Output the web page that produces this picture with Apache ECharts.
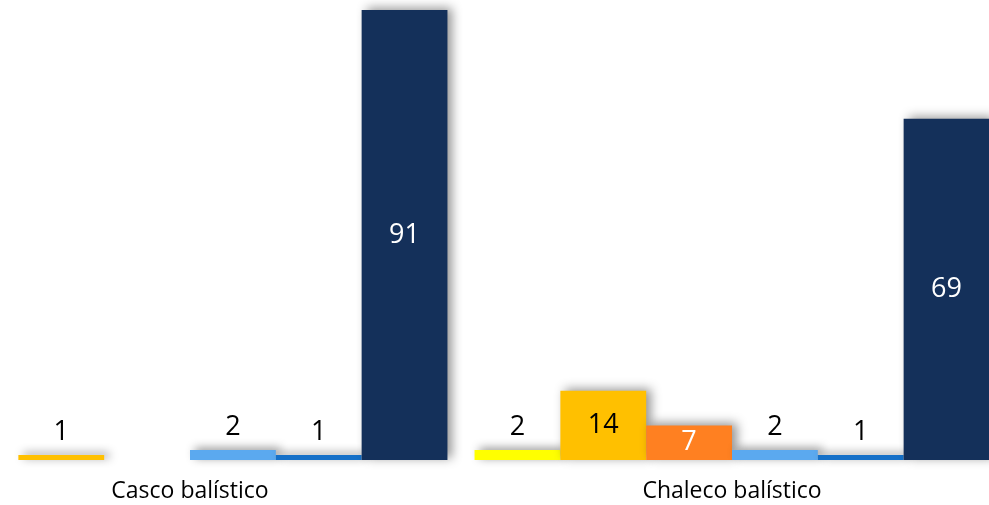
<!DOCTYPE html>
<html>
<head>
<meta charset="utf-8">
<script src="https://cdn.jsdelivr.net/npm/echarts@6/dist/echarts.min.js"></script>
<style>
  html, body { margin: 0; padding: 0; background: #fff; }
  #main { width: 989px; height: 505px; }
</style>
</head>
<body>
<div id="main"></div>
<script>
// categories and values
var categories = ["Casco balístico", "Chaleco balístico"];
var seriesNames = ["Serie 1", "Serie 2", "Serie 3", "Serie 4", "Serie 5", "Serie 6"];
var serie1 = [null, 2];
var serie2 = [1, 14];
var serie3 = [null, 7];
var serie4 = [2, 2];
var serie5 = [1, 1];
var serie6 = [91, 69];

var allValues = [serie1, serie2, serie3, serie4, serie5, serie6];
var colors = ["#FFFF00", "#FFC000", "#FF8021", "#5BA9EF", "#1570C8", "#14305A"];
var labelColors = ["#000", "#000", "#fff", "#000", "#000", "#fff"];
var fontFam = "'Open Sans', 'Noto Sans', sans-serif";

function buildData(values, idx) {
  return values.map(function(v) {
    if (v === null) return "-";
    // small bars get their number above, bigger ones inside
    if (v < 5) {
      return { value: v, label: { position: "top", distance: 9, color: "#000" } };
    }
    return { value: v, label: { position: "inside", color: labelColors[idx] } };
  });
}

var series = allValues.map(function(vals, i) {
  return {
    name: seriesNames[i],
    type: "bar",
    barGap: "0%",
    barCategoryGap: "5%",
    data: buildData(vals, i),
    itemStyle: {
      color: colors[i],
      shadowColor: "rgba(0,0,0,0.42)",
      shadowBlur: 10,
      shadowOffsetX: 5,
      shadowOffsetY: -2
    },
    label: {
      show: true,
      fontFamily: fontFam,
      fontSize: 27
    }
  };
});

var chart = echarts.init(document.getElementById("main"));
var option = {
  animation: false,
  grid: {
    left: -81,
    top: 10,
    width: 1084,
    bottom: 45,
    outerBoundsMode: "none"
  },
  xAxis: {
    type: "category",
    data: categories,
    axisLine: { show: false },
    axisTick: { show: false },
    axisLabel: {
      margin: 20,
      color: "#000",
      fontFamily: fontFam,
      fontSize: 23
    }
  },
  yAxis: {
    type: "value",
    min: 0,
    max: 91,
    show: false,
    splitLine: { show: false }
  },
  series: series
};
chart.setOption(option);
</script>
</body>
</html>
